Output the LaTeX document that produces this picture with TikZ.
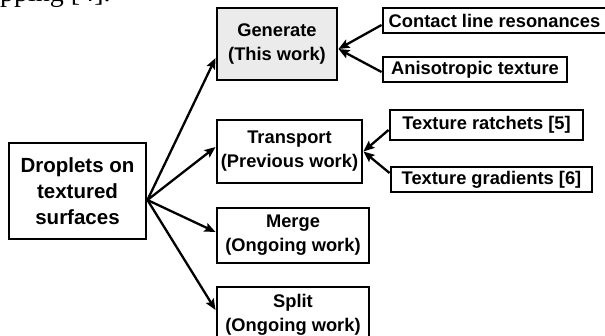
\documentclass[tikz,border=0pt]{standalone}
\usepackage{fontspec}
\setmainfont{Liberation Sans}
\newfontfamily\seriffont{Liberation Serif}
\usetikzlibrary{arrows.meta}
\begin{document}
\begin{tikzpicture}[x=1pt,y=-1pt,
  box/.style={draw, line width=2.9pt, align=center, inner sep=0pt,
    font=\bfseries\fontsize{18.3}{24}\selectfont},
  arr/.style={line width=2.3pt, -{Stealth[length=11pt,width=9pt,inset=2pt]}}]
\clip (0,0) rectangle (605,335);
\fill[white] (0,0) rectangle (605,335);
\node[anchor=base west, font=\seriffont\fontsize{28}{30}\selectfont, inner sep=0pt] (top) at (0,1) {pping [4].};
% main boxes
\node[box, minimum width=137pt, minimum height=96pt, font=\bfseries\fontsize{20.5}{25.7}\selectfont] (drop) at (77.5,191) {Droplets on\\textured\\surfaces};
\node[box, fill=black!8, minimum width=120pt, minimum height=72pt] (gen) at (277,44) {Generate\\(This work)};
\node[box, minimum width=145pt, minimum height=63pt] (tra) at (289.5,151.5) {Transport\\(Previous work)};
\node[box, minimum width=152pt, minimum height=55pt] (mer) at (293,235.5) {Merge\\(Ongoing work)};
\node[box, minimum width=152pt, minimum height=55pt] (spl) at (293,314.5) {Split\\(Ongoing work)};
% right boxes
\node[box, minimum width=223pt, minimum height=25pt] (con) at (494.5,20.5) {Contact line resonances};
\node[box, minimum width=184pt, minimum height=25pt] (ani) at (475,69.5) {Anisotropic texture};
\node[box, minimum width=193pt, minimum height=30pt] (rat) at (486.5,125) {Texture ratchets [5]};
\node[box, minimum width=201pt, minimum height=25pt] (gra) at (491.5,179.5) {Texture gradients [6]};
% arrows
\draw[arr] ([yshift=-9pt]drop.east) -- ([yshift=-14pt]gen.west);
\draw[arr] ([yshift=-9pt]drop.east) -- ([yshift=4.5pt]tra.west);
\draw[arr] ([yshift=-9pt]drop.east) -- ([yshift=3.5pt]mer.west);
\draw[arr] ([yshift=-9pt]drop.east) -- ([yshift=4.5pt]spl.west);
\draw[arr] ([yshift=-4.5pt]con.west) -- ([yshift=-5pt]gen.east);
\draw[arr] ([yshift=-2.5pt]ani.west) -- ([yshift=-5pt]gen.east);
\draw[arr] ([yshift=-5pt]rat.west) -- (tra.east);
\draw[arr] ([yshift=6.5pt]gra.west) -- (tra.east);
\end{tikzpicture}
\end{document}
